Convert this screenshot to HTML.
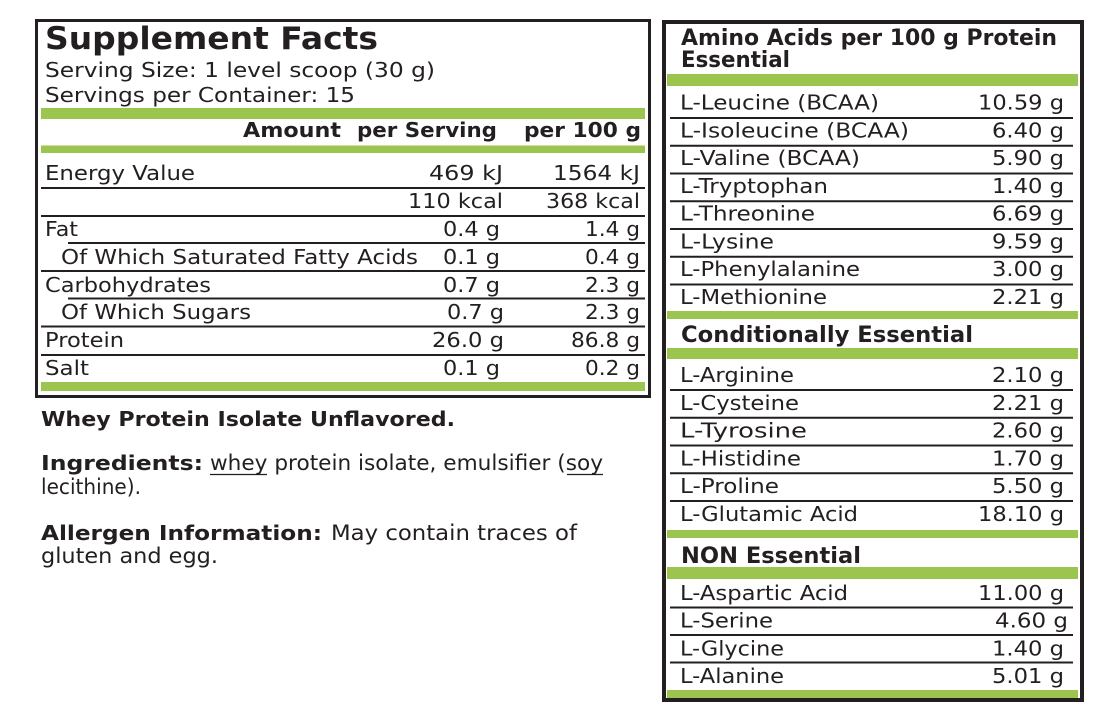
<!DOCTYPE html>
<html><head><meta charset="utf-8"><style>
html,body{margin:0;padding:0;background:#fff;}
svg{display:block;}
text{font-family:"DejaVu Sans","Liberation Sans",sans-serif;fill:#231f20;}
.b{font-weight:bold;}
.r{font-size:20px;}
</style></head><body>
<svg width="1096" height="715" viewBox="0 0 1096 715" xmlns="http://www.w3.org/2000/svg">
<rect width="1096" height="715" fill="#fff"/>
<!-- LEFT BOX -->
<rect x="36.5" y="20.5" width="613" height="376" fill="none" stroke="#231f20" stroke-width="3"/>
<text x="45" y="49" class="b" font-size="31" textLength="333" lengthAdjust="spacingAndGlyphs">Supplement Facts</text>
<text x="45" y="77" class="r" textLength="390" lengthAdjust="spacingAndGlyphs">Serving Size: 1 level scoop (30 g)</text>
<text x="45" y="102" class="r" textLength="310" lengthAdjust="spacingAndGlyphs">Servings per Container: 15</text>
<rect x="41" y="108" width="604" height="11" fill="#9cc54f"/>
<text x="243" y="137" class="b" font-size="20" textLength="98" lengthAdjust="spacingAndGlyphs">Amount</text>
<text x="357" y="137" class="b" font-size="20" textLength="140" lengthAdjust="spacingAndGlyphs">per Serving</text>
<text x="524" y="137" class="b" font-size="20" textLength="117" lengthAdjust="spacingAndGlyphs">per 100 g</text>
<rect x="41" y="145.5" width="604" height="7.5" fill="#9cc54f"/>
<g stroke="#231f20" stroke-width="2">
<line x1="41" y1="188" x2="645" y2="188"/>
<line x1="41" y1="216" x2="645" y2="216"/>
<line x1="68" y1="243" x2="645" y2="243"/>
<line x1="41" y1="271" x2="645" y2="271"/>
<line x1="68" y1="298.5" x2="645" y2="298.5"/>
<line x1="41" y1="326.5" x2="645" y2="326.5"/>
<line x1="41" y1="355" x2="645" y2="355"/>
</g>
<g>
<text x="45" y="180" class="r" textLength="150" lengthAdjust="spacingAndGlyphs">Energy Value</text>
<text x="429" y="180" class="r" textLength="74" lengthAdjust="spacingAndGlyphs">469 kJ</text>
<text x="553" y="180" class="r" textLength="87" lengthAdjust="spacingAndGlyphs">1564 kJ</text>
<text x="408" y="208" class="r" textLength="95" lengthAdjust="spacingAndGlyphs">110 kcal</text>
<text x="546" y="208" class="r" textLength="94" lengthAdjust="spacingAndGlyphs">368 kcal</text>
<text x="45" y="236" class="r" textLength="33" lengthAdjust="spacingAndGlyphs">Fat</text>
<text x="443" y="236" class="r" textLength="57" lengthAdjust="spacingAndGlyphs">0.4 g</text>
<text x="585" y="236" class="r" textLength="55" lengthAdjust="spacingAndGlyphs">1.4 g</text>
<text x="61" y="264" class="r" textLength="357" lengthAdjust="spacingAndGlyphs">Of Which Saturated Fatty Acids</text>
<text x="443" y="264" class="r" textLength="57" lengthAdjust="spacingAndGlyphs">0.1 g</text>
<text x="585" y="264" class="r" textLength="55" lengthAdjust="spacingAndGlyphs">0.4 g</text>
<text x="45" y="292" class="r" textLength="166" lengthAdjust="spacingAndGlyphs">Carbohydrates</text>
<text x="443" y="292" class="r" textLength="57" lengthAdjust="spacingAndGlyphs">0.7 g</text>
<text x="585" y="292" class="r" textLength="55" lengthAdjust="spacingAndGlyphs">2.3 g</text>
<text x="61" y="319" class="r" textLength="190" lengthAdjust="spacingAndGlyphs">Of Which Sugars</text>
<text x="447" y="319" class="r" textLength="57" lengthAdjust="spacingAndGlyphs">0.7 g</text>
<text x="585" y="319" class="r" textLength="55" lengthAdjust="spacingAndGlyphs">2.3 g</text>
<text x="45" y="347" class="r" textLength="79" lengthAdjust="spacingAndGlyphs">Protein</text>
<text x="432" y="347" class="r" textLength="72" lengthAdjust="spacingAndGlyphs">26.0 g</text>
<text x="571" y="347" class="r" textLength="69" lengthAdjust="spacingAndGlyphs">86.8 g</text>
<text x="45" y="375" class="r" textLength="44" lengthAdjust="spacingAndGlyphs">Salt</text>
<text x="443" y="375" class="r" textLength="57" lengthAdjust="spacingAndGlyphs">0.1 g</text>
<text x="585" y="375" class="r" textLength="55" lengthAdjust="spacingAndGlyphs">0.2 g</text>
</g>
<rect x="41" y="382" width="604" height="9" fill="#9cc54f"/>

<!-- BOTTOM LEFT TEXT -->
<text x="41" y="426" class="b" font-size="20" textLength="414" lengthAdjust="spacingAndGlyphs">Whey Protein Isolate Unflavored.</text>
<text x="41" y="470" class="b" font-size="20" textLength="162" lengthAdjust="spacingAndGlyphs">Ingredients:</text>
<text x="210" y="470" font-size="21" textLength="393" lengthAdjust="spacingAndGlyphs">whey protein isolate, emulsifier (soy</text>
<line x1="210" y1="474.5" x2="267" y2="474.5" stroke="#231f20" stroke-width="1.3"/>
<line x1="567" y1="474.5" x2="603" y2="474.5" stroke="#231f20" stroke-width="1.3"/>
<text x="41" y="494" font-size="21" textLength="100" lengthAdjust="spacingAndGlyphs">lecithine).</text>
<text x="41" y="540" class="b" font-size="20" textLength="281" lengthAdjust="spacingAndGlyphs">Allergen Information:</text>
<text x="331" y="540" font-size="21" textLength="246" lengthAdjust="spacingAndGlyphs">May contain traces of</text>
<text x="41" y="563" font-size="21" textLength="177" lengthAdjust="spacingAndGlyphs">gluten and egg.</text>

<!-- RIGHT BOX -->
<rect x="664" y="22" width="418" height="678" fill="none" stroke="#231f20" stroke-width="4"/>
<text x="681" y="45" class="b" font-size="22" textLength="376" lengthAdjust="spacingAndGlyphs">Amino Acids per 100 g Protein</text>
<text x="681" y="67" class="b" font-size="22" textLength="109" lengthAdjust="spacingAndGlyphs">Essential</text>
<rect x="667" y="74" width="411" height="12" fill="#9cc54f"/>
<g stroke="#231f20" stroke-width="2">
<line x1="670" y1="118" x2="1073" y2="118"/>
<line x1="670" y1="145.75" x2="1073" y2="145.75"/>
<line x1="670" y1="173.5" x2="1073" y2="173.5"/>
<line x1="670" y1="201.25" x2="1073" y2="201.25"/>
<line x1="670" y1="229" x2="1073" y2="229"/>
<line x1="670" y1="256.75" x2="1073" y2="256.75"/>
<line x1="670" y1="284.5" x2="1073" y2="284.5"/>
<line x1="670" y1="390" x2="1073" y2="390"/>
<line x1="670" y1="417.75" x2="1073" y2="417.75"/>
<line x1="670" y1="445.5" x2="1073" y2="445.5"/>
<line x1="670" y1="473.25" x2="1073" y2="473.25"/>
<line x1="670" y1="501" x2="1073" y2="501"/>
<line x1="670" y1="607.5" x2="1073" y2="607.5"/>
<line x1="670" y1="635" x2="1073" y2="635"/>
<line x1="670" y1="662.5" x2="1073" y2="662.5"/>
</g>
<g>
<text x="680" y="109.5" class="r" textLength="199" lengthAdjust="spacingAndGlyphs">L-Leucine (BCAA)</text>
<text x="978" y="109.5" class="r" textLength="86" lengthAdjust="spacingAndGlyphs">10.59 g</text>
<text x="680" y="137.25" class="r" textLength="229" lengthAdjust="spacingAndGlyphs">L-Isoleucine (BCAA)</text>
<text x="992" y="137.25" class="r" textLength="72" lengthAdjust="spacingAndGlyphs">6.40 g</text>
<text x="680" y="165" class="r" textLength="180" lengthAdjust="spacingAndGlyphs">L-Valine (BCAA)</text>
<text x="992" y="165" class="r" textLength="72" lengthAdjust="spacingAndGlyphs">5.90 g</text>
<text x="680" y="192.75" class="r" textLength="148" lengthAdjust="spacingAndGlyphs">L-Tryptophan</text>
<text x="992" y="192.75" class="r" textLength="72" lengthAdjust="spacingAndGlyphs">1.40 g</text>
<text x="680" y="220.5" class="r" textLength="135" lengthAdjust="spacingAndGlyphs">L-Threonine</text>
<text x="992" y="220.5" class="r" textLength="72" lengthAdjust="spacingAndGlyphs">6.69 g</text>
<text x="680" y="248.25" class="r" textLength="94" lengthAdjust="spacingAndGlyphs">L-Lysine</text>
<text x="992" y="248.25" class="r" textLength="72" lengthAdjust="spacingAndGlyphs">9.59 g</text>
<text x="680" y="276" class="r" textLength="180" lengthAdjust="spacingAndGlyphs">L-Phenylalanine</text>
<text x="992" y="276" class="r" textLength="72" lengthAdjust="spacingAndGlyphs">3.00 g</text>
<text x="680" y="303.75" class="r" textLength="147" lengthAdjust="spacingAndGlyphs">L-Methionine</text>
<text x="992" y="303.75" class="r" textLength="72" lengthAdjust="spacingAndGlyphs">2.21 g</text>
</g>
<rect x="667" y="311" width="411" height="8" fill="#9cc54f"/>
<text x="681" y="342" class="b" font-size="22" textLength="292" lengthAdjust="spacingAndGlyphs">Conditionally Essential</text>
<rect x="667" y="348" width="411" height="11" fill="#9cc54f"/>
<g>
<text x="680" y="382" class="r" textLength="114" lengthAdjust="spacingAndGlyphs">L-Arginine</text>
<text x="992" y="382" class="r" textLength="72" lengthAdjust="spacingAndGlyphs">2.10 g</text>
<text x="680" y="409.75" class="r" textLength="119" lengthAdjust="spacingAndGlyphs">L-Cysteine</text>
<text x="992" y="409.75" class="r" textLength="72" lengthAdjust="spacingAndGlyphs">2.21 g</text>
<text x="680" y="437.5" class="r" textLength="127" lengthAdjust="spacingAndGlyphs">L-Tyrosine</text>
<text x="992" y="437.5" class="r" textLength="72" lengthAdjust="spacingAndGlyphs">2.60 g</text>
<text x="680" y="465.25" class="r" textLength="121" lengthAdjust="spacingAndGlyphs">L-Histidine</text>
<text x="992" y="465.25" class="r" textLength="72" lengthAdjust="spacingAndGlyphs">1.70 g</text>
<text x="680" y="493" class="r" textLength="99" lengthAdjust="spacingAndGlyphs">L-Proline</text>
<text x="992" y="493" class="r" textLength="72" lengthAdjust="spacingAndGlyphs">5.50 g</text>
<text x="680" y="521" class="r" textLength="178" lengthAdjust="spacingAndGlyphs">L-Glutamic Acid</text>
<text x="978" y="521" class="r" textLength="86" lengthAdjust="spacingAndGlyphs">18.10 g</text>
</g>
<rect x="667" y="530" width="411" height="8" fill="#9cc54f"/>
<text x="681" y="563" class="b" font-size="22" textLength="180" lengthAdjust="spacingAndGlyphs">NON Essential</text>
<rect x="667" y="567" width="411" height="12" fill="#9cc54f"/>
<g>
<text x="680" y="600" class="r" textLength="168" lengthAdjust="spacingAndGlyphs">L-Aspartic Acid</text>
<text x="978" y="600" class="r" textLength="86" lengthAdjust="spacingAndGlyphs">11.00 g</text>
<text x="680" y="627.5" class="r" textLength="93" lengthAdjust="spacingAndGlyphs">L-Serine</text>
<text x="995" y="627.5" class="r" textLength="73" lengthAdjust="spacingAndGlyphs">4.60 g</text>
<text x="680" y="655.5" class="r" textLength="104" lengthAdjust="spacingAndGlyphs">L-Glycine</text>
<text x="992" y="655.5" class="r" textLength="72" lengthAdjust="spacingAndGlyphs">1.40 g</text>
<text x="680" y="683" class="r" textLength="104" lengthAdjust="spacingAndGlyphs">L-Alanine</text>
<text x="992" y="683" class="r" textLength="72" lengthAdjust="spacingAndGlyphs">5.01 g</text>
</g>
<rect x="667" y="690" width="411" height="8" fill="#9cc54f"/>
</svg>
</body></html>
